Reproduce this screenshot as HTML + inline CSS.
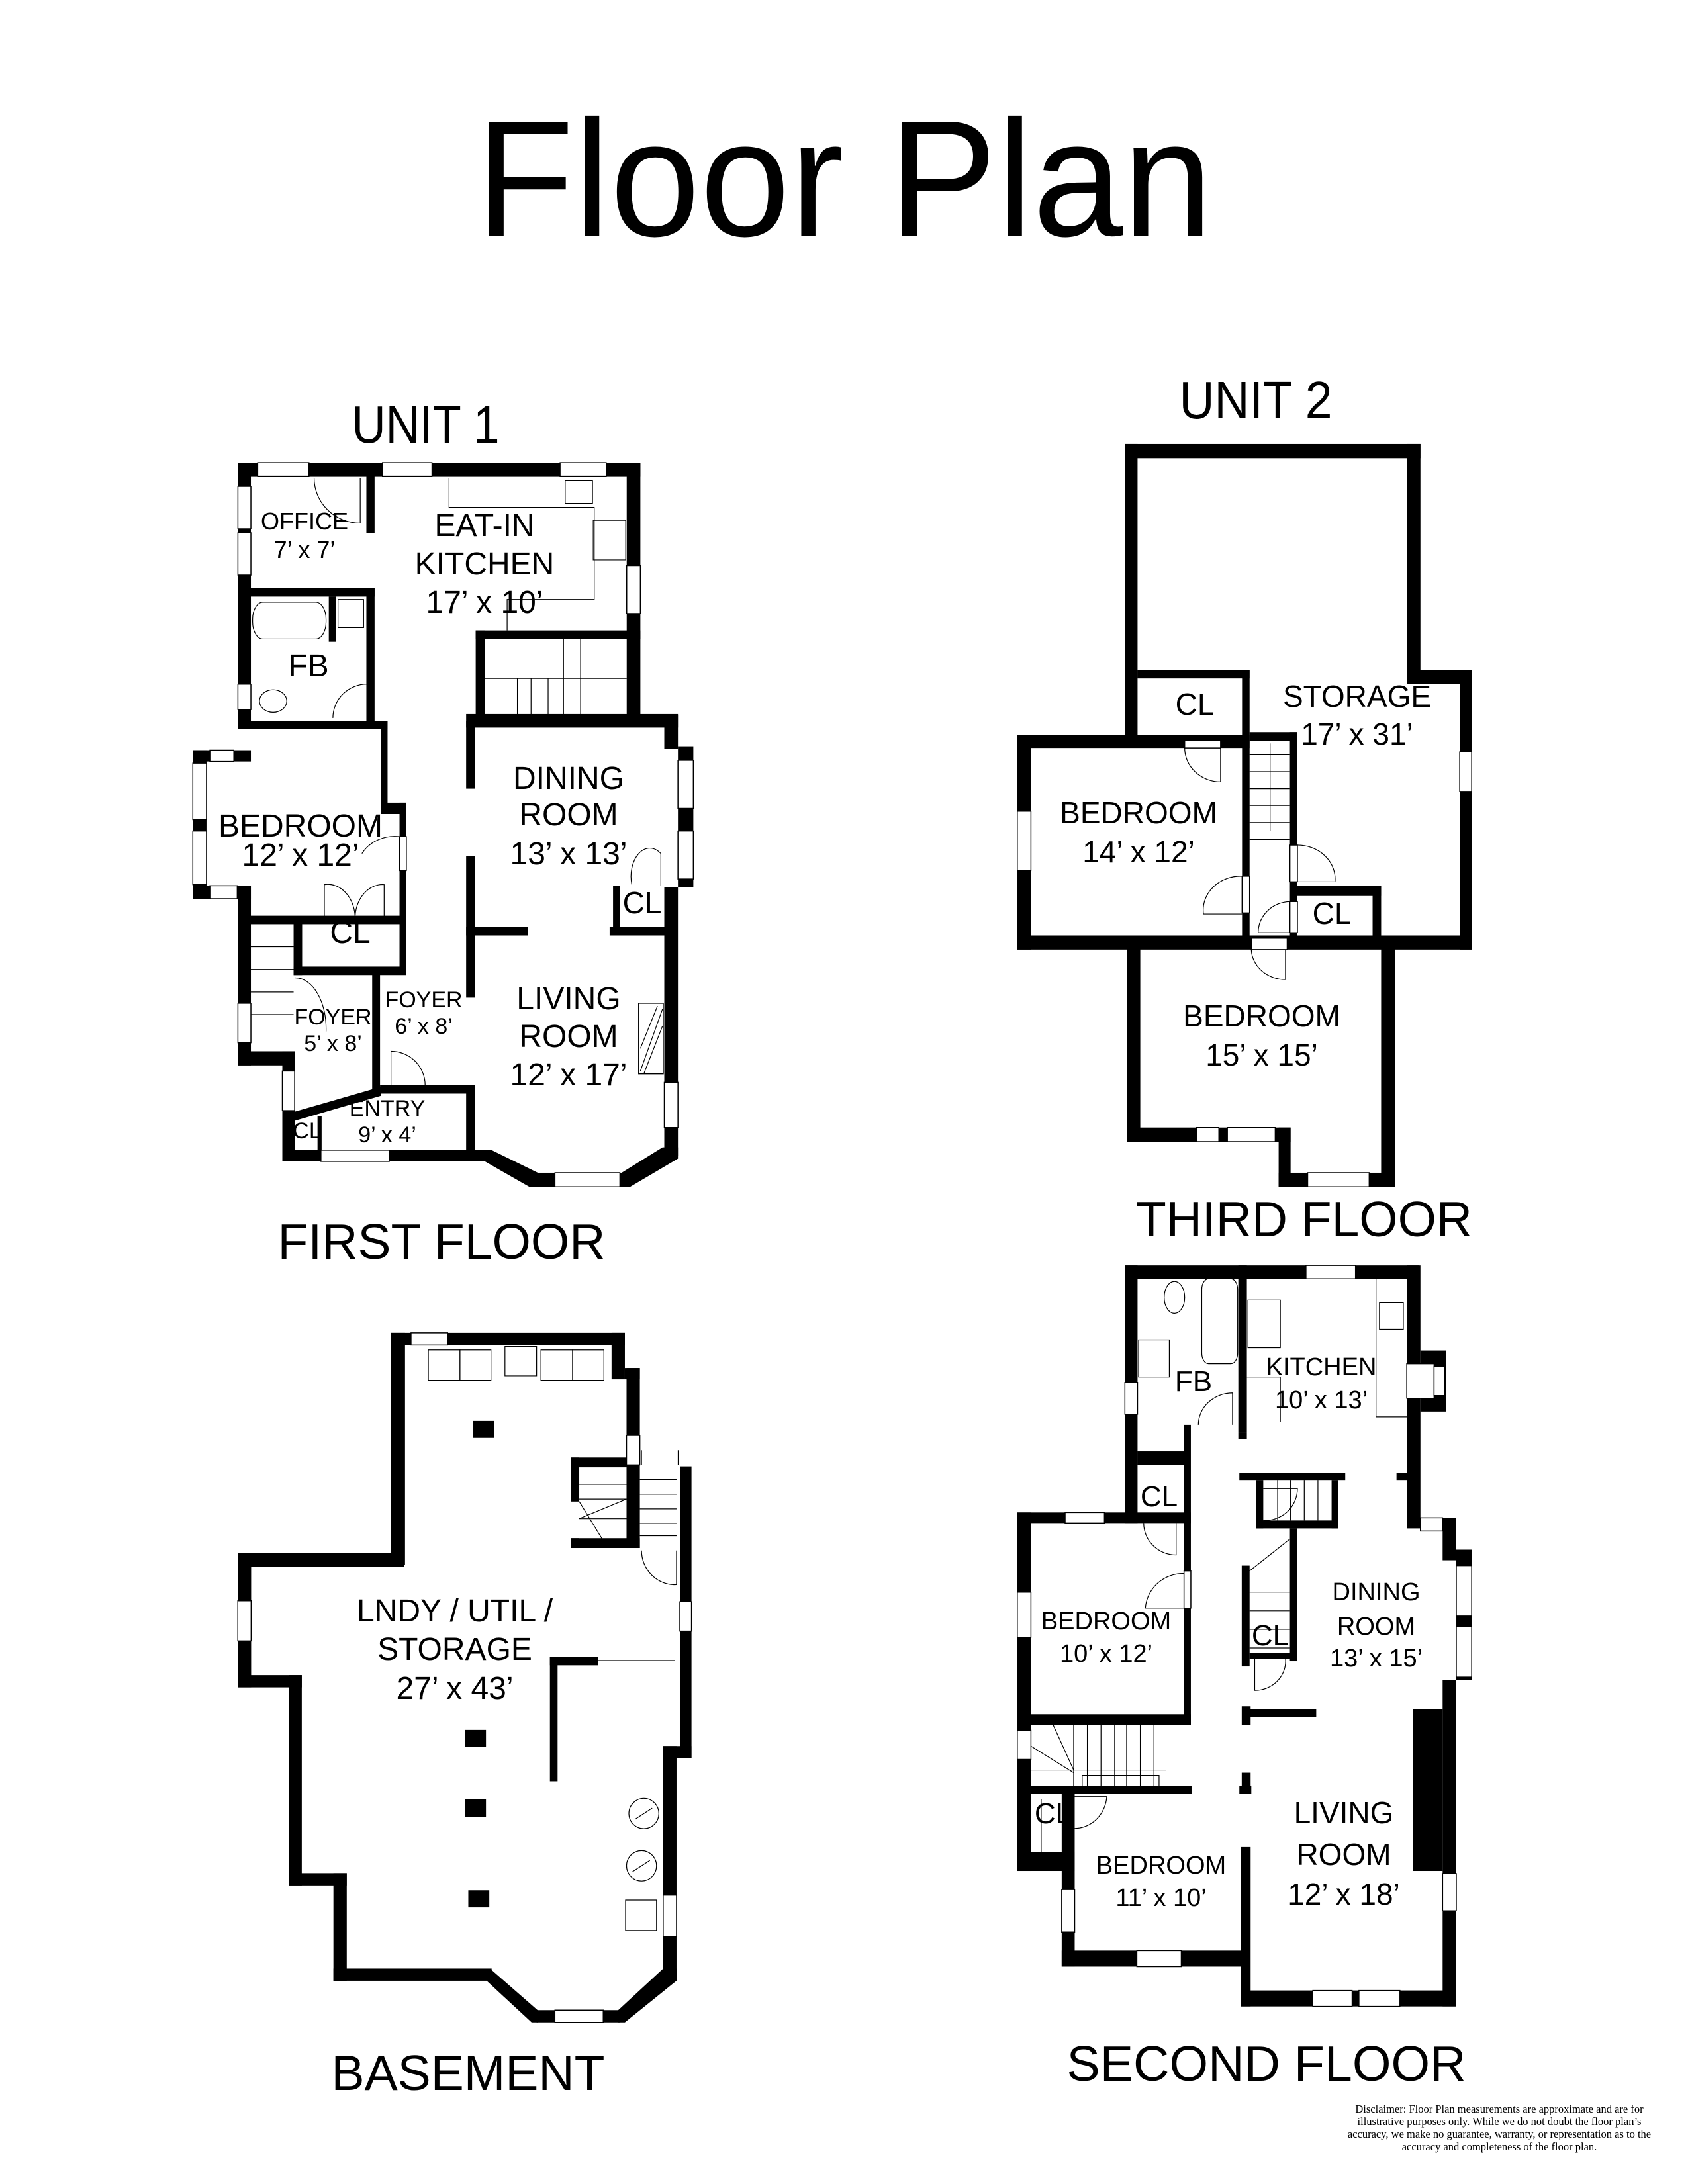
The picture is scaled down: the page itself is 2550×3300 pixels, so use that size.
<!DOCTYPE html>
<html><head><meta charset="utf-8"><style>
html,body{margin:0;padding:0;background:#fff}
svg{display:block}
text{font-family:"Liberation Sans",Arial,sans-serif;fill:#000}
.w{fill:#fff;stroke:#000;stroke-width:1.5}
.t{fill:none;stroke:#000;stroke-width:1.2}
</style></head><body>
<svg xmlns="http://www.w3.org/2000/svg" width="2550" height="3300" viewBox="0 0 2550 3300">
<rect width="2550" height="3300" fill="#fff"/>

<!-- FIRST FLOOR -->
<g transform="translate(250,560) scale(0.5161,0.8535)">
<g fill="#000">
<rect x="212" y="163" width="1178" height="24"/>
<rect x="212" y="163" width="38" height="470"/>
<rect x="588" y="163" width="24" height="125"/>
<rect x="588" y="385" width="24" height="250"/>
<rect x="212" y="385" width="400" height="15"/>
<rect x="478" y="400" width="20" height="80"/>
<rect x="212" y="620" width="438" height="15"/>
<rect x="80" y="672" width="170" height="20"/>
<rect x="80" y="672" width="40" height="263"/>
<rect x="80" y="912" width="170" height="23"/>
<rect x="212" y="912" width="38" height="318"/>
<rect x="630" y="620" width="20" height="165"/>
<rect x="630" y="765" width="75" height="20"/>
<rect x="685" y="765" width="20" height="300"/>
<rect x="212" y="965" width="493" height="15"/>
<rect x="375" y="975" width="25" height="95"/>
<rect x="375" y="1055" width="330" height="15"/>
<rect x="212" y="1205" width="166" height="25"/>
<rect x="342" y="1205" width="36" height="195"/>
<rect x="342" y="1380" width="608" height="20"/>
<rect x="605" y="1065" width="23" height="215"/>
<rect x="628" y="1265" width="272" height="15"/>
<rect x="445" y="1320" width="12" height="65"/>
<rect x="880" y="620" width="25" height="120"/>
<rect x="880" y="860" width="25" height="250"/>
<rect x="880" y="1265" width="25" height="135"/>
<rect x="908" y="460" width="482" height="15"/>
<rect x="908" y="460" width="27" height="160"/>
<rect x="880" y="608" width="620" height="24"/>
<rect x="1350" y="163" width="40" height="457"/>
<rect x="1460" y="610" width="40" height="60"/>
<rect x="1500" y="665" width="45" height="250"/>
<rect x="1460" y="915" width="40" height="475"/>
<rect x="880" y="985" width="180" height="15"/>
<rect x="1300" y="985" width="160" height="15"/>
<rect x="1310" y="912" width="20" height="85"/>
<rect x="1085" y="1420" width="250" height="25"/>
<polygon points="378,1312 630,1268 630,1284 378,1328"/>
<polygon points="900,1380 955,1380 1090,1420 1090,1445 1065,1445 935,1400 900,1400"/>
<polygon points="1335,1420 1455,1375 1500,1375 1500,1395 1360,1445 1335,1445"/>
</g>
<g class="w">
<rect x="270" y="163" width="150" height="24" vector-effect="non-scaling-stroke"/>
<rect x="635" y="163" width="145" height="24" vector-effect="non-scaling-stroke"/>
<rect x="1155" y="163" width="135" height="24" vector-effect="non-scaling-stroke"/>
<rect x="212" y="205" width="38" height="75" vector-effect="non-scaling-stroke"/>
<rect x="212" y="287" width="38" height="75" vector-effect="non-scaling-stroke"/>
<rect x="212" y="555" width="38" height="45" vector-effect="non-scaling-stroke"/>
<rect x="130" y="672" width="70" height="20" vector-effect="non-scaling-stroke"/>
<rect x="80" y="695" width="40" height="100" vector-effect="non-scaling-stroke"/>
<rect x="80" y="815" width="40" height="95" vector-effect="non-scaling-stroke"/>
<rect x="130" y="912" width="80" height="23" vector-effect="non-scaling-stroke"/>
<rect x="212" y="1120" width="38" height="70" vector-effect="non-scaling-stroke"/>
<rect x="342" y="1240" width="36" height="70" vector-effect="non-scaling-stroke"/>
<rect x="1350" y="345" width="40" height="85" vector-effect="non-scaling-stroke"/>
<rect x="1500" y="690" width="45" height="85" vector-effect="non-scaling-stroke"/>
<rect x="1500" y="815" width="45" height="85" vector-effect="non-scaling-stroke"/>
<rect x="1460" y="1260" width="40" height="80" vector-effect="non-scaling-stroke"/>
<rect x="1140" y="1420" width="190" height="25" vector-effect="non-scaling-stroke"/>
<rect x="455" y="1380" width="200" height="20" vector-effect="non-scaling-stroke"/>
<rect x="685" y="825" width="20" height="60" vector-effect="non-scaling-stroke"/>
<rect x="1385" y="1120" width="72" height="125" vector-effect="non-scaling-stroke"/>
</g>
<g class="t">
<rect x="255" y="410" width="215" height="65" rx="30" vector-effect="non-scaling-stroke"/>
<rect x="505" y="405" width="75" height="50" vector-effect="non-scaling-stroke"/>
<ellipse cx="315" cy="585" rx="40" ry="20" vector-effect="non-scaling-stroke"/>
<polyline points="830,190 830,242 1255,242 1255,405 1000,405 1000,460" vector-effect="non-scaling-stroke"/>
<rect x="1170" y="195" width="80" height="40" vector-effect="non-scaling-stroke"/>
<rect x="1252" y="265" width="95" height="70" vector-effect="non-scaling-stroke"/>
<path d="M1030 545V615M1070 545V615M1120 545V615M1165 475V615M1215 475V615M935 545H1350" vector-effect="non-scaling-stroke"/>
<path d="M250 1020H375M250 1060H375M250 1100H375M250 1140H375" vector-effect="non-scaling-stroke"/>
<path d="M1390 1240L1455 1130M1390 1200L1440 1125M1400 1245L1455 1160" vector-effect="non-scaling-stroke"/>
<path d="M435 190A135 80 0 0 0 570 270V190M490 615A100 60 0 0 1 590 555V615M575 855A110 60 0 0 1 685 825V885M465 970V910A80 60 0 0 1 555 970M640 970V910A80 60 0 0 0 555 970M1365 910A55 50 0 0 1 1450 855V912M660 1265V1205A100 60 0 0 1 760 1265M380 1075A90 90 0 0 1 470 1170" vector-effect="non-scaling-stroke"/>
</g>
</g>

<!-- THIRD FLOOR -->
<g transform="translate(1480,560) scale(0.5161,0.8535)">
<g fill="#000">
<rect x="425" y="130" width="865" height="25"/>
<rect x="425" y="130" width="37" height="530"/>
<rect x="1250" y="130" width="40" height="425"/>
<rect x="1250" y="530" width="190" height="25"/>
<rect x="1405" y="530" width="35" height="495"/>
<rect x="110" y="645" width="680" height="23"/>
<rect x="110" y="645" width="40" height="380"/>
<rect x="110" y="1000" width="1330" height="25"/>
<rect x="768" y="530" width="22" height="480"/>
<rect x="462" y="530" width="328" height="15"/>
<rect x="790" y="640" width="140" height="15"/>
<rect x="908" y="640" width="22" height="365"/>
<rect x="930" y="912" width="245" height="18"/>
<rect x="1150" y="912" width="25" height="95"/>
<rect x="432" y="1015" width="38" height="350"/>
<rect x="432" y="1340" width="478" height="25"/>
<rect x="875" y="1340" width="35" height="105"/>
<rect x="875" y="1420" width="340" height="25"/>
<rect x="1175" y="1015" width="40" height="430"/>
</g>
<g class="w">
<rect x="110" y="780" width="40" height="105" vector-effect="non-scaling-stroke"/>
<rect x="1405" y="675" width="35" height="70" vector-effect="non-scaling-stroke"/>
<rect x="635" y="1340" width="65" height="25" vector-effect="non-scaling-stroke"/>
<rect x="725" y="1340" width="140" height="25" vector-effect="non-scaling-stroke"/>
<rect x="960" y="1420" width="180" height="25" vector-effect="non-scaling-stroke"/>
<rect x="768" y="895" width="22" height="65" vector-effect="non-scaling-stroke"/>
<rect x="908" y="840" width="22" height="65" vector-effect="non-scaling-stroke"/>
<rect x="908" y="940" width="22" height="55" vector-effect="non-scaling-stroke"/>
<rect x="600" y="655" width="105" height="13" vector-effect="non-scaling-stroke"/>
<rect x="795" y="1005" width="105" height="20" vector-effect="non-scaling-stroke"/>
</g>
<g class="t">
<path d="M790 680H908M790 710H908M790 740H908M790 770H908M790 800H908M790 830H908M850 660V815" vector-effect="non-scaling-stroke"/>
<path d="M600 668A105 60 0 0 0 705 728V668M768 962H655A110 60 0 0 1 768 895M930 840A110 60 0 0 1 1040 905H930M908 995H815A95 55 0 0 1 908 940M795 1025A100 55 0 0 0 895 1078V1025" vector-effect="non-scaling-stroke"/>
</g>
</g>

<!-- SECOND FLOOR -->
<g transform="translate(1480,1860) scale(0.5161,0.8025)">
<g fill="#000">
<rect x="425" y="65" width="860" height="25"/>
<rect x="425" y="65" width="37" height="485"/>
<rect x="757" y="65" width="25" height="315"/>
<rect x="1250" y="65" width="40" height="495"/>
<rect x="1290" y="225" width="75" height="115"/>
<rect x="462" y="415" width="136" height="25"/>
<rect x="598" y="365" width="20" height="565"/>
<rect x="110" y="530" width="508" height="20"/>
<rect x="110" y="530" width="40" height="675"/>
<rect x="110" y="910" width="508" height="20"/>
<rect x="150" y="1045" width="470" height="15"/>
<rect x="760" y="1045" width="35" height="15"/>
<rect x="240" y="1060" width="38" height="325"/>
<rect x="110" y="1170" width="168" height="35"/>
<rect x="240" y="1355" width="550" height="30"/>
<rect x="765" y="1160" width="28" height="300"/>
<rect x="767" y="1020" width="26" height="40"/>
<rect x="767" y="895" width="26" height="35"/>
<rect x="767" y="630" width="23" height="190"/>
<rect x="770" y="900" width="215" height="15"/>
<rect x="765" y="1430" width="630" height="30"/>
<rect x="1355" y="845" width="40" height="615"/>
<rect x="1355" y="540" width="40" height="80"/>
<rect x="1395" y="600" width="45" height="245"/>
<rect x="1268" y="900" width="87" height="305"/>
<rect x="760" y="455" width="310" height="15"/>
<rect x="1220" y="455" width="30" height="15"/>
<rect x="757" y="380" width="25" height="12"/>
<rect x="808" y="470" width="22" height="90"/>
<rect x="1030" y="470" width="20" height="90"/>
<rect x="808" y="545" width="242" height="15"/>
<rect x="908" y="560" width="22" height="250"/>
<rect x="790" y="795" width="140" height="10"/>
</g>
<g class="w">
<rect x="955" y="65" width="145" height="25" vector-effect="non-scaling-stroke"/>
<rect x="425" y="285" width="37" height="60" vector-effect="non-scaling-stroke"/>
<rect x="1250" y="250" width="80" height="65" vector-effect="non-scaling-stroke"/>
<rect x="1330" y="255" width="30" height="55" vector-effect="non-scaling-stroke"/>
<rect x="250" y="530" width="115" height="20" vector-effect="non-scaling-stroke"/>
<rect x="110" y="680" width="40" height="85" vector-effect="non-scaling-stroke"/>
<rect x="110" y="940" width="40" height="55" vector-effect="non-scaling-stroke"/>
<rect x="240" y="1240" width="38" height="80" vector-effect="non-scaling-stroke"/>
<rect x="460" y="1355" width="130" height="30" vector-effect="non-scaling-stroke"/>
<rect x="975" y="1430" width="115" height="30" vector-effect="non-scaling-stroke"/>
<rect x="1110" y="1430" width="120" height="30" vector-effect="non-scaling-stroke"/>
<rect x="1355" y="1210" width="40" height="70" vector-effect="non-scaling-stroke"/>
<rect x="1395" y="630" width="45" height="95" vector-effect="non-scaling-stroke"/>
<rect x="1395" y="745" width="45" height="95" vector-effect="non-scaling-stroke"/>
<rect x="1290" y="540" width="65" height="25" vector-effect="non-scaling-stroke"/>
<rect x="598" y="640" width="20" height="70" vector-effect="non-scaling-stroke"/>
</g>
<g class="t">
<ellipse cx="570" cy="125" rx="30" ry="30" vector-effect="non-scaling-stroke"/>
<rect x="650" y="90" width="105" height="160" rx="20" vector-effect="non-scaling-stroke"/>
<rect x="465" y="205" width="90" height="70" vector-effect="non-scaling-stroke"/>
<rect x="785" y="130" width="95" height="90" vector-effect="non-scaling-stroke"/>
<polyline points="782,275 880,275 880,360" vector-effect="non-scaling-stroke"/>
<polyline points="1160,90 1160,350 1250,350" vector-effect="non-scaling-stroke"/>
<rect x="1170" y="135" width="70" height="50" vector-effect="non-scaling-stroke"/>
<path d="M640 365A100 60 0 0 1 740 305V365M480 550A95 60 0 0 0 575 610V550M598 710H485A110 70 0 0 1 598 645M830 545A95 60 0 0 0 930 485H830M805 805V865A90 55 0 0 0 895 805" vector-effect="non-scaling-stroke"/>
<path d="M790 680H908M790 715H908M790 750H908M790 785H908M790 640L908 580" vector-effect="non-scaling-stroke"/>
<path d="M315 930V1045M355 930V1045M395 930V1045M430 930V1045M470 930V1045M510 930V1045M275 930V1045M150 1015H545M150 970L275 1020M215 930L275 1015" vector-effect="non-scaling-stroke"/>
<rect x="300" y="1025" width="225" height="20" vector-effect="non-scaling-stroke"/>
<path d="M278 1125A95 65 0 0 0 372 1065H278M180 1070V1170" vector-effect="non-scaling-stroke"/>
<path d="M872 470V545M910 470V545M950 470V545M990 470V545" vector-effect="non-scaling-stroke"/>
</g>
</g>

<!-- BASEMENT -->
<g transform="translate(320,1940) scale(0.5032,0.7389)">
<g fill="#000">
<rect x="538" y="100" width="702" height="25"/>
<rect x="538" y="100" width="42" height="475"/>
<rect x="78" y="550" width="500" height="28"/>
<rect x="78" y="550" width="40" height="275"/>
<rect x="78" y="800" width="192" height="25"/>
<rect x="232" y="800" width="38" height="430"/>
<rect x="232" y="1205" width="173" height="25"/>
<rect x="365" y="1205" width="40" height="220"/>
<rect x="365" y="1400" width="475" height="25"/>
<polygon points="835,1400 978,1485 978,1510 960,1510 825,1425"/>
<rect x="975" y="1485" width="250" height="25"/>
<polygon points="1220,1485 1355,1400 1395,1400 1395,1425 1240,1510 1220,1510"/>
<rect x="1355" y="945" width="40" height="480"/>
<rect x="1355" y="945" width="85" height="25"/>
<rect x="1405" y="373" width="35" height="597"/>
<rect x="1200" y="100" width="40" height="95"/>
<rect x="1240" y="172" width="45" height="23"/>
<rect x="1245" y="172" width="40" height="200"/>
<rect x="1078" y="355" width="25" height="90"/>
<rect x="1078" y="520" width="25" height="20"/>
<rect x="1078" y="520" width="207" height="20"/>
<rect x="1245" y="355" width="40" height="185"/>
<rect x="1078" y="355" width="170" height="20"/>
<rect x="1015" y="762" width="145" height="18"/>
<rect x="1015" y="762" width="23" height="255"/>
<rect x="785" y="280" width="63" height="35"/>
<rect x="760" y="912" width="63" height="35"/>
<rect x="760" y="1053" width="63" height="37"/>
<rect x="770" y="1240" width="63" height="35"/>
</g>
<g class="w">
<rect x="598" y="100" width="110" height="25" vector-effect="non-scaling-stroke"/>
<rect x="78" y="648" width="40" height="82" vector-effect="non-scaling-stroke"/>
<rect x="1245" y="310" width="40" height="60" vector-effect="non-scaling-stroke"/>
<rect x="1405" y="650" width="35" height="60" vector-effect="non-scaling-stroke"/>
<rect x="1355" y="1250" width="40" height="85" vector-effect="non-scaling-stroke"/>
<rect x="1030" y="1485" width="145" height="25" vector-effect="non-scaling-stroke"/>
</g>
<g class="t">
<rect x="650" y="135" width="95" height="62" vector-effect="non-scaling-stroke"/>
<rect x="745" y="135" width="93" height="62" vector-effect="non-scaling-stroke"/>
<rect x="880" y="128" width="95" height="60" vector-effect="non-scaling-stroke"/>
<rect x="988" y="135" width="95" height="62" vector-effect="non-scaling-stroke"/>
<rect x="1083" y="135" width="94" height="62" vector-effect="non-scaling-stroke"/>
<ellipse cx="1297" cy="1083" rx="45" ry="31" vector-effect="non-scaling-stroke"/>
<ellipse cx="1290" cy="1190" rx="45" ry="31" vector-effect="non-scaling-stroke"/>
<path d="M1270 1095L1322 1072M1263 1202L1315 1179" vector-effect="non-scaling-stroke"/>
<rect x="1242" y="1260" width="93" height="62" vector-effect="non-scaling-stroke"/>
<path d="M1103 410H1245M1103 440H1245M1103 480H1245M1103 445L1175 525M1103 480L1245 440" vector-effect="non-scaling-stroke"/>
<path d="M1285 400H1395M1285 430H1395M1285 460H1395M1285 490H1395M1285 515H1395M1290 545A100 70 0 0 0 1395 615V545M1290 340V370M1400 340V370" vector-effect="non-scaling-stroke"/>
<path d="M1160 770H1390" vector-effect="non-scaling-stroke"/>
</g>
</g>

<!-- Text -->
<text x="1275" y="356" font-size="250" text-anchor="middle" textLength="1114" lengthAdjust="spacingAndGlyphs">Floor Plan</text>

<text x="643" y="669" font-size="80" text-anchor="middle" textLength="223" lengthAdjust="spacingAndGlyphs">UNIT 1</text>
<text x="1897" y="632" font-size="80" text-anchor="middle" textLength="231" lengthAdjust="spacingAndGlyphs">UNIT 2</text>

<g font-size="36" text-anchor="middle">
<text x="460" y="800">OFFICE</text>
<text x="460" y="843">7’ x 7’</text>
</g>
<g font-size="48" text-anchor="middle">
<text x="732" y="810">EAT-IN</text>
<text x="732" y="868">KITCHEN</text>
<text x="732" y="926">17’ x 10’</text>
<text x="466" y="1022">FB</text>
<text x="454" y="1264">BEDROOM</text>
<text x="454" y="1308">12’ x 12’</text>
<text x="529" y="1425">CL</text>
<text x="859" y="1192">DINING</text>
<text x="859" y="1247">ROOM</text>
<text x="859" y="1306">13’ x 13’</text>
<text x="859" y="1525">LIVING</text>
<text x="859" y="1582">ROOM</text>
<text x="859" y="1640">12’ x 17’</text>
</g>
<text x="970" y="1380" font-size="46" text-anchor="middle">CL</text>
<g font-size="34" text-anchor="middle">
<text x="503" y="1548">FOYER</text>
<text x="503" y="1588">5’ x 8’</text>
<text x="640" y="1522">FOYER</text>
<text x="640" y="1562">6’ x 8’</text>
<text x="585" y="1686">ENTRY</text>
<text x="585" y="1726">9’ x 4’</text>
<text x="464" y="1720">CL</text>
</g>

<text x="667" y="1902" font-size="75" text-anchor="middle" textLength="495" lengthAdjust="spacingAndGlyphs">FIRST FLOOR</text>
<text x="1970" y="1868" font-size="75" text-anchor="middle" textLength="508" lengthAdjust="spacingAndGlyphs">THIRD FLOOR</text>
<text x="707" y="3158" font-size="75" text-anchor="middle" textLength="413" lengthAdjust="spacingAndGlyphs">BASEMENT</text>
<text x="1913" y="3144" font-size="75" text-anchor="middle" textLength="603" lengthAdjust="spacingAndGlyphs">SECOND FLOOR</text>

<g font-size="46" text-anchor="middle">
<text x="1805" y="1080">CL</text>
<text x="2050" y="1068">STORAGE</text>
<text x="2050" y="1125">17’ x 31’</text>
<text x="1720" y="1244">BEDROOM</text>
<text x="1720" y="1303">14’ x 12’</text>
<text x="2012" y="1396">CL</text>
<text x="1906" y="1551">BEDROOM</text>
<text x="1906" y="1610">15’ x 15’</text>
</g>

<g font-size="44" text-anchor="middle">
<text x="1803" y="2102">FB</text>
<text x="1751" y="2276">CL</text>
<text x="1919" y="2486">CL</text>
<text x="1591" y="2755">CL</text>
</g>
<g font-size="38" text-anchor="middle">
<text x="1996" y="2078">KITCHEN</text>
<text x="1996" y="2128">10’ x 13’</text>
<text x="1671" y="2462">BEDROOM</text>
<text x="1671" y="2511">10’ x 12’</text>
<text x="2079" y="2418">DINING</text>
<text x="2079" y="2470">ROOM</text>
<text x="2079" y="2518">13’ x 15’</text>
<text x="1754" y="2831">BEDROOM</text>
<text x="1754" y="2880">11’ x 10’</text>
</g>
<g font-size="46" text-anchor="middle">
<text x="2030" y="2755">LIVING</text>
<text x="2030" y="2818">ROOM</text>
<text x="2030" y="2878">12’ x 18’</text>
</g>

<g font-size="48" text-anchor="middle">
<text x="687" y="2450">LNDY / UTIL /</text>
<text x="687" y="2508">STORAGE</text>
<text x="687" y="2567">27’ x 43’</text>
</g>

<g font-size="16.5" text-anchor="middle">
<text x="2265" y="3192" style="font-family:'Liberation Serif',serif">Disclaimer: Floor Plan measurements are approximate and are for</text>
<text x="2265" y="3211" style="font-family:'Liberation Serif',serif">illustrative purposes only. While we do not doubt the floor plan’s</text>
<text x="2265" y="3230" style="font-family:'Liberation Serif',serif">accuracy, we make no guarantee, warranty, or representation as to the</text>
<text x="2265" y="3249" style="font-family:'Liberation Serif',serif">accuracy and completeness of the floor plan.</text>
</g>
</svg>
</body></html>
